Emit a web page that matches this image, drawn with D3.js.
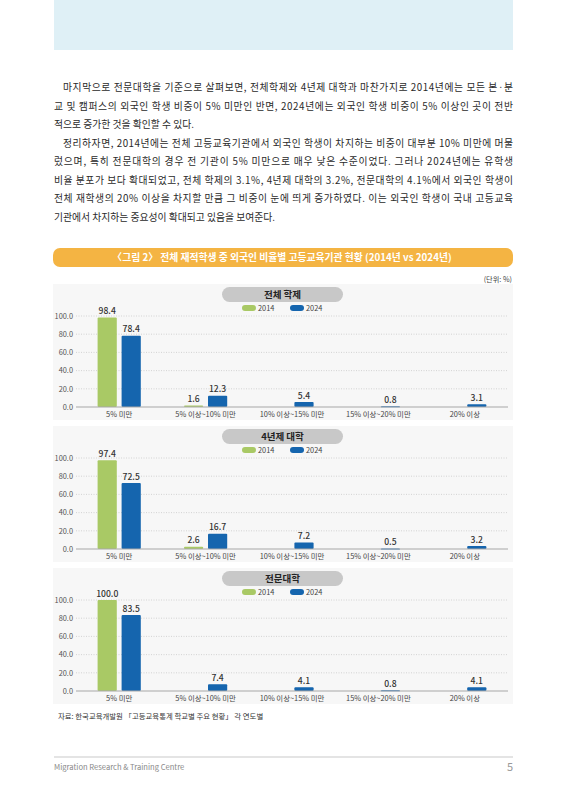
<!DOCTYPE html>
<html>
<head>
<meta charset="utf-8">
<script src="https://cdn.jsdelivr.net/npm/d3@7"></script>
<style>
  html, body { margin: 0; padding: 0; background: #fff; }
  svg { display: block; font-family: "Noto Sans CJK KR", "Noto Sans", sans-serif; }
</style>
</head>
<body>
<svg id="page" width="566" height="800"></svg>
<script>
// Data
const categories = ["5% 미만", "5% 이상~10% 미만", "10% 이상~15% 미만", "15% 이상~20% 미만", "20% 이상"];
const years = ["2014", "2024"];
const panelTitles = ["전체 학제", "4년제 대학", "전문대학"];
const total2014 = [98.4, 1.6, 0, 0, 0];
const total2024 = [78.4, 12.3, 5.4, 0.8, 3.1];
const univ2014 = [97.4, 2.6, 0, 0, 0];
const univ2024 = [72.5, 16.7, 7.2, 0.5, 3.2];
const college2014 = [100.0, 0, 0, 0, 0];
const college2024 = [83.5, 7.4, 4.1, 0.8, 4.1];
const yTicks = [0, 20, 40, 60, 80, 100];

const paragraphs = [
    [
        "마지막으로 전문대학을 기준으로 살펴보면, 전체학제와 4년제 대학과 마찬가지로 2014년에는 모든 본·분",
        "교 및 캠퍼스의 외국인 학생 비중이 5% 미만인 반면, 2024년에는 외국인 학생 비중이 5% 이상인 곳이 전반",
        "적으로 증가한 것을 확인할 수 있다."
    ],
    [
        "정리하자면, 2014년에는 전체 고등교육기관에서 외국인 학생이 차지하는 비중이 대부분 10% 미만에 머물",
        "렀으며, 특히 전문대학의 경우 전 기관이 5% 미만으로 매우 낮은 수준이었다. 그러나 2024년에는 유학생",
        "비율 분포가 보다 확대되었고, 전체 학제의 3.1%, 4년제 대학의 3.2%, 전문대학의 4.1%에서 외국인 학생이",
        "전체 재학생의 20% 이상을 차지할 만큼 그 비중이 눈에 띄게 증가하였다. 이는 외국인 학생이 국내 고등교육",
        "기관에서 차지하는 중요성이 확대되고 있음을 보여준다."
    ]
];

const figureTitle = "〈그림 2〉 전체 재적학생 중 외국인 비율별 고등교육기관 현황 (2014년 vs 2024년)";
const unitText = "(단위: %)";
const sourceText = "자료: 한국교육개발원 「고등교육통계 학교별 주요 현황」 각 연도별";
const footerText = "Migration Research & Training Centre";
const pageNumber = "5";

const colors = { "2014": "#a9c965", "2024": "#1565ae" };

const svg = d3.select("#page");

// Top blue box
svg.append("rect")
    .attr("x", 54).attr("y", 0)
    .attr("width", 459).attr("height", 50)
    .attr("fill", "#dff0f6");

// Body paragraphs (each line justified except the last)
let lineY = 91;
paragraphs.forEach(lines => {
    lines.forEach((line, i) => {
        const x = i === 0 ? 63 : 54;
        const t = svg.append("text")
            .attr("x", x).attr("y", lineY)
            .attr("font-size", 9.8)
            .attr("fill", "#2a2a2a")
            .text(line);
        if (i < lines.length - 1) {
            t.attr("textLength", 513 - x).attr("lengthAdjust", "spacing");
        }
        lineY += 18.5;
    });
});

// Figure title banner
svg.append("rect")
    .attr("x", 53).attr("y", 248)
    .attr("width", 460).attr("height", 19)
    .attr("rx", 7)
    .attr("fill", "#f4b443");
svg.append("text")
    .attr("x", 282).attr("y", 261.3)
    .attr("text-anchor", "middle")
    .attr("font-size", 9.8)
    .attr("font-weight", 700)
    .attr("fill", "#fff")
    .text(figureTitle);

svg.append("text")
    .attr("x", 512).attr("y", 282)
    .attr("text-anchor", "end")
    .attr("font-size", 7.2)
    .attr("fill", "#444")
    .text(unitText);

// Panels
const panels = [
    { title: panelTitles[0], top: 284, s2014: total2014, s2024: total2024 },
    { title: panelTitles[1], top: 426, s2014: univ2014, s2024: univ2024 },
    { title: panelTitles[2], top: 568, s2014: college2014, s2024: college2024 }
];

const x = d3.scaleBand().domain(categories).range([76, 508]).paddingInner(0.5).paddingOuter(0.25);
const xInner = d3.scaleBand().domain(years).range([0, x.bandwidth()]).paddingInner(0.2);

panels.forEach(p => {
    const g = svg.append("g").attr("transform", `translate(0,${p.top})`);
    const y = d3.scaleLinear().domain([0, 100]).range([123, 32]);

    g.append("rect")
        .attr("x", 53).attr("y", 0)
        .attr("width", 460).attr("height", 136)
        .attr("fill", "#f7f7f7");

    // title pill
    g.append("rect")
        .attr("x", 222).attr("y", 3)
        .attr("width", 121).attr("height", 15)
        .attr("rx", 7.5)
        .attr("fill", "#c8c8c8");
    g.append("text")
        .attr("x", 282.5).attr("y", 14)
        .attr("text-anchor", "middle")
        .attr("font-size", 9.5)
        .attr("font-weight", 700)
        .attr("fill", "#222")
        .text(p.title);

    // legend
    const leg = g.selectAll(".leg").data(years).enter().append("g")
        .attr("transform", (d, i) => `translate(${242 + i * 48},24)`);
    leg.append("rect")
        .attr("x", 0).attr("y", -3)
        .attr("width", 14).attr("height", 6)
        .attr("rx", 3)
        .attr("fill", d => colors[d]);
    leg.append("text")
        .attr("x", 16).attr("y", 2.7)
        .attr("font-size", 7.4)
        .attr("fill", "#444")
        .text(d => d);

    // grid
    g.selectAll(".grid").data(yTicks.filter(d => d > 0)).enter().append("line")
        .attr("x1", 76).attr("x2", 508)
        .attr("y1", d => y(d)).attr("y2", d => y(d))
        .attr("stroke", "#c4c4c4")
        .attr("stroke-width", 0.7)
        .attr("stroke-dasharray", "1,1.5");

    // y axis labels
    const yAxis = d3.axisLeft(y).tickValues(yTicks).tickFormat(d3.format(".1f")).tickSize(0).tickPadding(3);
    const ya = g.append("g").attr("transform", "translate(76,0)").call(yAxis);
    ya.select(".domain").remove();
    ya.selectAll("text").attr("font-size", 7.4).attr("fill", "#555")
        .attr("font-family", "'Noto Sans CJK KR', sans-serif");

    // bars
    const rows = categories.map((c, i) => ({ cat: c, vals: [
        { year: "2014", v: p.s2014[i] }, { year: "2024", v: p.s2024[i] }
    ] }));
    const grp = g.selectAll(".cat").data(rows).enter().append("g")
        .attr("transform", d => `translate(${x(d.cat)},0)`);
    const bar = grp.selectAll(".bar").data(d => d.vals.filter(v => v.v > 0)).enter();
    bar.append("rect")
        .attr("x", d => xInner(d.year))
        .attr("width", xInner.bandwidth())
        .attr("y", d => y(d.v))
        .attr("height", d => Math.max(1, y(0) - y(d.v)))
        .attr("rx", 1)
        .attr("fill", d => colors[d.year]);
    bar.append("text")
        .attr("x", d => xInner(d.year) + xInner.bandwidth() / 2)
        .attr("y", d => Math.min(y(d.v), y(0) - 1) - 3.5)
        .attr("text-anchor", "middle")
        .attr("font-size", 8.6)
        .attr("font-weight", 500)
        .attr("fill", "#333")
        .text(d => d3.format(".1f")(d.v));

    // baseline
    g.append("line")
        .attr("x1", 76).attr("x2", 508)
        .attr("y1", y(0)).attr("y2", y(0))
        .attr("stroke", "#a8a8a8")
        .attr("stroke-width", 1.2);

    // x axis labels
    const xAxis = d3.axisBottom(x).tickSize(0).tickPadding(5);
    const xa = g.append("g").attr("transform", `translate(0,${y(0)})`).call(xAxis);
    xa.select(".domain").remove();
    xa.selectAll("text").attr("font-size", 7.4).attr("fill", "#444")
        .attr("font-family", "'Noto Sans CJK KR', sans-serif");
});

// Source
svg.append("text")
    .attr("x", 58).attr("y", 719)
    .attr("font-size", 7.4)
    .attr("fill", "#333")
    .text(sourceText);

// Footer
svg.append("line")
    .attr("x1", 54).attr("x2", 513)
    .attr("y1", 757).attr("y2", 757)
    .attr("stroke", "#bbb").attr("stroke-width", 0.8);
svg.append("text")
    .attr("x", 54).attr("y", 770)
    .attr("font-size", 7.6)
    .attr("fill", "#888")
    .text(footerText);
svg.append("text")
    .attr("x", 513).attr("y", 771)
    .attr("text-anchor", "end")
    .attr("font-size", 11)
    .attr("fill", "#999")
    .text(pageNumber);
</script>
</body>
</html>
